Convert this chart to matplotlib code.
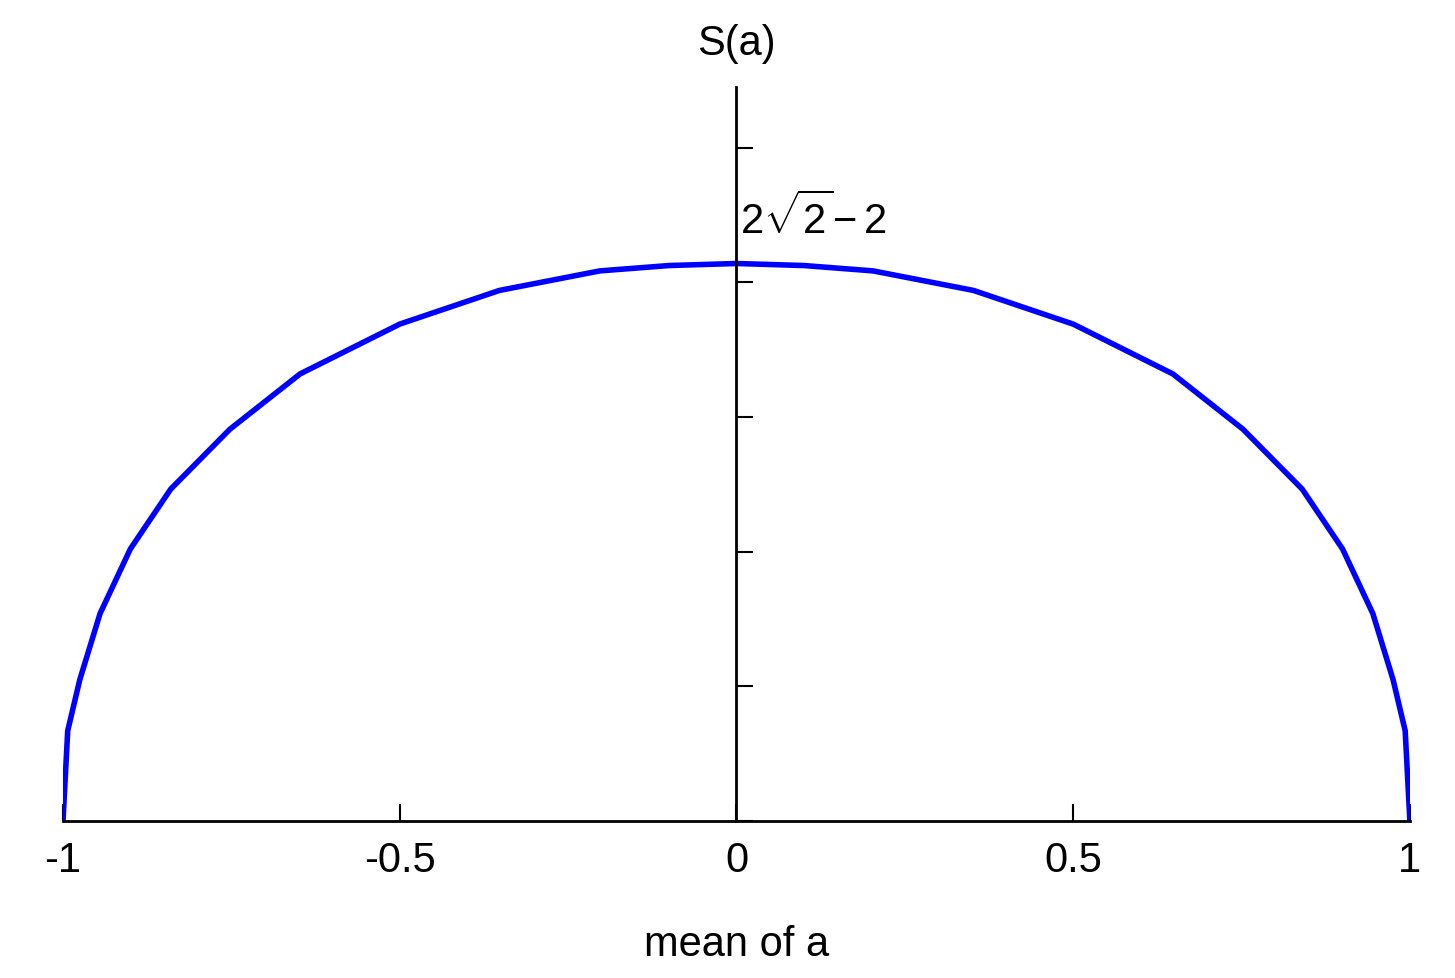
import matplotlib
matplotlib.use("Agg")
import matplotlib.pyplot as plt

plt.rcParams['font.family'] = ['Liberation Sans', 'DejaVu Sans']
plt.rcParams['mathtext.fontset'] = 'custom'
plt.rcParams['mathtext.rm'] = 'Liberation Sans'
plt.rcParams['mathtext.it'] = 'Liberation Sans'

a_half = [-1.0, -0.993, -0.975, -0.945, -0.9, -0.84, -0.752, -0.648, -0.5, -0.352, -0.203, -0.1]
s_half = [0.0, 0.134, 0.21, 0.308, 0.404, 0.493, 0.582, 0.664, 0.738, 0.788, 0.817, 0.825]
a_vals = a_half + [0.0] + [-v for v in reversed(a_half)]
s_vals = s_half + [0.828] + list(reversed(s_half))
xticks = [-1, -0.5, 0, 0.5, 1]
xticklabels = ['-1', '-0.5', '0', '0.5', '1']
yticks = [0, 0.2, 0.4, 0.6, 0.8, 1.0]

fig = plt.figure(figsize=(14.55, 9.79), dpi=100)
ax = fig.add_axes([0.0433, 0.1604, 0.9257, 0.7496])
ax.plot(a_vals, s_vals, color='#0000ff', lw=4, solid_joinstyle='round')
ax.set_xlim(-1, 1)
ax.set_ylim(0, 1.09)
ax.spines['left'].set_position(('data', 0))
ax.spines['top'].set_visible(False)
ax.spines['right'].set_visible(False)
for s in ax.spines.values():
    s.set_linewidth(2)
ax.set_xticks(xticks)
ax.set_xticklabels(xticklabels)
ax.set_yticks(yticks)
ax.set_yticklabels([])
ax.tick_params(axis='both', direction='in', length=12, width=1.5, labelsize=30)
ax.tick_params(axis='x', pad=14)
ax.text(0.006, 0.86, r'$2\sqrt{2}\!-2$', fontsize=30, ha='left', va='bottom')
fig.text(0.506, 0.955, 'S(a)', fontsize=30, ha='center', va='center')
fig.text(0.506, 0.035, 'mean of a', fontsize=30, ha='center', va='center')
fig.savefig('out.png', dpi=100)
